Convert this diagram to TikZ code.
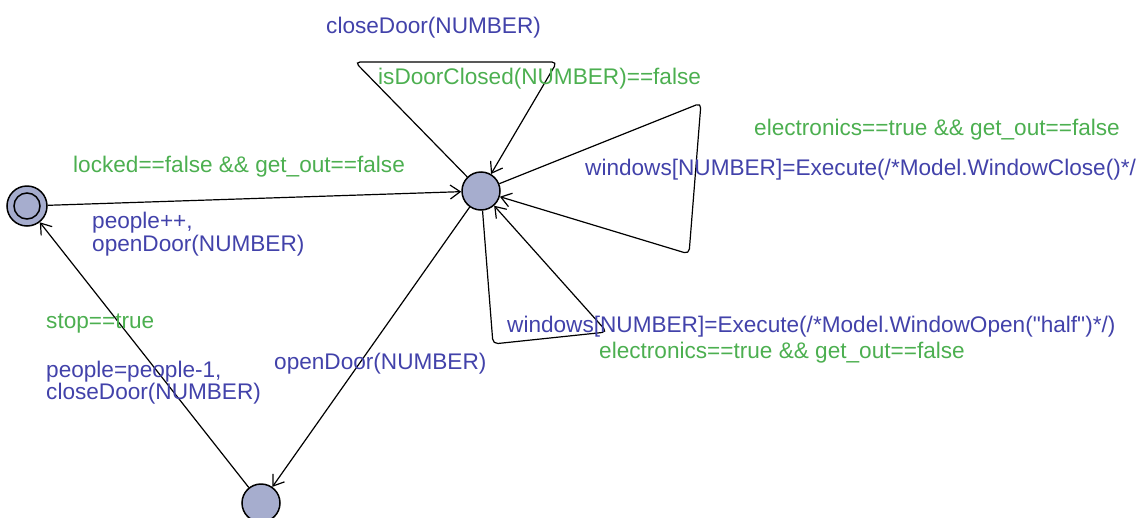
\documentclass[tikz,border=0pt]{standalone}
\usepackage{fontspec}
\newfontfamily\labelfont{Liberation Sans}
\usetikzlibrary{arrows.meta}
\definecolor{locfill}{RGB}{166,173,206}
\definecolor{guardcol}{RGB}{76,175,80}
\definecolor{updcol}{RGB}{66,66,170}
\tikzset{
  loc/.style={circle,draw,line width=1.5pt,fill=locfill,minimum size=38pt,inner sep=0pt},
  edge/.style={line width=1.2pt,rounded corners=5pt,-{Straight Barb[length=10pt,width=14pt]}},
  guard/.style={text=guardcol,anchor=base west,inner sep=0pt},
  upd/.style={text=updcol,anchor=base west,inner sep=0pt,align=left},
}
\begin{document}
\begin{tikzpicture}[x=1pt,y=-1pt,font=\labelfont\fontsize{22.6}{23}\selectfont]
\useasboundingbox (0,0) rectangle (1141,517);
% locations
\node[loc,minimum size=40pt] (init) at (27,206) {};
\draw[line width=1.5pt] (init.center) circle (13pt);
\node[loc] (mid) at (481,191) {};
\node[loc] (bot) at (261,503) {};
% corner points of the loops
\coordinate (t1) at (355,62);
\coordinate (t2) at (557,62);
\coordinate (r1) at (701,103);
\coordinate (r2) at (689,254);
\coordinate (b1) at (493,344);
\coordinate (b2) at (607,332);
% edges
\draw[edge] (init) -- (mid);
\draw[edge] (mid) -- (bot);
\draw[edge] (bot) -- (init);
\draw[edge] (mid) -- (t1) -- (t2) -- (mid);
\draw[edge] (mid) -- (r1) -- (r2) -- (mid);
\draw[edge] (mid) -- (b1) -- (b2) -- (mid);
% labels
\node[guard] (g1) at (73,172) {locked==false \&\& get\_out==false};
\node[upd] (u1) at (92,228) {people++,};
\node[upd] (u1b) at (92,251) {openDoor(NUMBER)};
\node[upd] (u2) at (274,369) {openDoor(NUMBER)};
\node[guard] (g3) at (46,328) {stop==true};
\node[upd] (u3) at (46,377) {people=people-1,};
\node[upd] (u3b) at (46,399) {closeDoor(NUMBER)};
\node[upd] (u4) at (326,33) {closeDoor(NUMBER)};
\node[guard] (g4) at (378,84) {isDoorClosed(NUMBER)==false};
\node[guard] (g5) at (754,135) {electronics==true \&\& get\_out==false};
\node[upd] (u5) at (585,175) {windows[NUMBER]=Execute(/*Model.WindowClose()*/};
\node[upd] (u6) at (507,332) {windows[NUMBER]=Execute(/*Model.WindowOpen("half")*/)};
\node[guard] (g6) at (599,358) {electronics==true \&\& get\_out==false};
\end{tikzpicture}
\end{document}
